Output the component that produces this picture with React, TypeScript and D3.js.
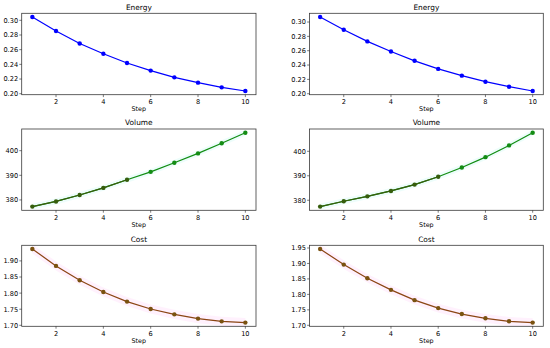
import * as d3 from 'd3';

const steps = [1, 2, 3, 4, 5, 6, 7, 8, 9, 10];
const xTicks = [2, 4, 6, 8, 10];

const energyLeft = [0.3045, 0.2854, 0.2685, 0.2544, 0.2418, 0.2315, 0.2223, 0.2151, 0.2087, 0.2037];
const energyRight = [0.307, 0.2893, 0.273, 0.2589, 0.2459, 0.2346, 0.2252, 0.2168, 0.2098, 0.2038];
const volumeLeft = [377.3, 379.4, 382.0, 384.9, 388.2, 391.4, 395.1, 398.9, 403.0, 407.3];
const volumeRight = [377.4, 379.6, 381.6, 383.8, 386.4, 389.6, 393.4, 397.6, 402.4, 407.6];
const costLeft = [1.937, 1.8845, 1.84, 1.8036, 1.7737, 1.7507, 1.734, 1.7208, 1.7124, 1.7084];
const costRight = [1.9468, 1.8963, 1.8522, 1.8146, 1.7814, 1.7557, 1.7364, 1.7226, 1.7129, 1.7087];

const energyTicks = [0.2, 0.22, 0.24, 0.26, 0.28, 0.3];
const volumeTicks = [380, 390, 400];
const costTicksLeft = [1.7, 1.75, 1.8, 1.85, 1.9];
const costTicksRight = [1.7, 1.75, 1.8, 1.85, 1.9, 1.95];

interface PanelSpec {
  title: string;
  values: number[];
  ticks: number[];
  fmt: string;
  line: string;
  marker: string;
  darkMarker?: string;
  darkUntil?: number;
  band?: string;
  spread?: number;
}

const leftColumn: PanelSpec[] = [
  { title: 'Energy', values: energyLeft, ticks: energyTicks, fmt: '.2f', line: '#0000ff', marker: '#0000ff' },
  { title: 'Volume', values: volumeLeft, ticks: volumeTicks, fmt: 'd', line: '#118c11', marker: '#148c14', darkMarker: '#365d0c', darkUntil: 5, band: '#7ff0e0', spread: 1.2 },
  { title: 'Cost', values: costLeft, ticks: costTicksLeft, fmt: '.2f', line: '#8b4513', marker: '#7a5210', band: '#ff9ef0', spread: 0.014 },
];
const rightColumn: PanelSpec[] = [
  { title: 'Energy', values: energyRight, ticks: energyTicks, fmt: '.2f', line: '#0000ff', marker: '#0000ff' },
  { title: 'Volume', values: volumeRight, ticks: volumeTicks, fmt: 'd', line: '#118c11', marker: '#148c14', darkMarker: '#365d0c', darkUntil: 6, band: '#7ff0e0', spread: 1.2 },
  { title: 'Cost', values: costRight, ticks: costTicksRight, fmt: '.2f', line: '#8b4513', marker: '#7a5210', band: '#ff9ef0', spread: 0.014 },
];

const FONT = 'DejaVu Sans, sans-serif';

function Panel({ spec, x0, x1, top, bottom }: { spec: PanelSpec; x0: number; x1: number; top: number; bottom: number }) {
  const x = d3.scaleLinear().domain([0.55, 10.45]).range([x0, x1]);
  const [lo, hi] = d3.extent(spec.values) as [number, number];
  const pad = (hi - lo) * 0.05;
  const y = d3.scaleLinear().domain([lo - pad, hi + pad]).range([bottom, top]);
  const fmt = d3.format(spec.fmt);

  const line = d3.line<number>().x((_, i) => x(steps[i])).y(d => y(d)).curveMonotoneX;
  const pathLine = d3.line<number>().x((_, i) => x(steps[i])).y(d => y(d));
  const area = d3.area<number>()
    .x((_, i) => x(steps[i]))
    .y0(d => y(d - (spec.spread || 0)))
    .y1(d => y(d + (spec.spread || 0)));

  const clipId = `clip-${spec.title}-${Math.round(x0)}`;
  const dark = spec.darkUntil ? spec.values.slice(0, spec.darkUntil) : [];

  return (
    <g>
      <defs>
        <clipPath id={clipId}>
          <rect x={x0} y={top} width={x1 - x0} height={bottom - top} />
        </clipPath>
      </defs>
      <text x={(x0 + x1) / 2} y={top - 3.8} textAnchor="middle" fontSize={7.4} fontFamily={FONT} fill="#000">{spec.title}</text>
      {spec.band && (
        <path d={area(spec.values) || ''} fill={spec.band} opacity={0.14} clipPath={`url(#${clipId})`} />
      )}
      <path d={pathLine(spec.values) || ''} fill="none" stroke={spec.line} strokeWidth={1.2} />
      {dark.length > 1 && (
        <path d={pathLine(dark) || ''} fill="none" stroke={spec.darkMarker} strokeWidth={1.2} />
      )}
      {spec.values.map((v, i) => (
        <circle key={i} cx={x(steps[i])} cy={y(v)} r={2.2}
          fill={spec.darkUntil && i < spec.darkUntil ? spec.darkMarker : spec.marker} />
      ))}
      <rect x={x0} y={top} width={x1 - x0} height={bottom - top} fill="none" stroke="#3a3a3a" strokeWidth={0.8} />
      {spec.ticks.map(t => (
        <g key={t}>
          <line x1={x0 - 2.4} x2={x0} y1={y(t)} y2={y(t)} stroke="#222" strokeWidth={0.6} />
          <text x={x0 - 3.6} y={y(t) + 2.4} textAnchor="end" fontSize={6.6} fontFamily={FONT} fill="#000">{fmt(t)}</text>
        </g>
      ))}
      {xTicks.map(t => (
        <g key={t}>
          <line x1={x(t)} x2={x(t)} y1={bottom} y2={bottom + 2.4} stroke="#222" strokeWidth={0.6} />
          <text x={x(t)} y={bottom + 9.2} textAnchor="middle" fontSize={6.6} fontFamily={FONT} fill="#000">{t}</text>
        </g>
      ))}
      <text x={(x0 + x1) / 2} y={bottom + 16.5} textAnchor="middle" fontSize={6.4} fontFamily={FONT} fill="#000">Step</text>
    </g>
  );
}

export default function App() {
  const rowTops = [13.3, 129, 245.3];
  const rowBottoms = [94.7, 210.3, 326.3];
  return (
    <svg width={550} height={348} style={{ position: 'absolute', left: 0, top: 0, background: '#fff' }}>
      {leftColumn.map((spec, r) => (
        <Panel key={`l${r}`} spec={spec} x0={21.7} x1={256} top={rowTops[r]} bottom={rowBottoms[r]} />
      ))}
      {rightColumn.map((spec, r) => (
        <Panel key={`r${r}`} spec={spec} x0={309.5} x1={543.3} top={rowTops[r]} bottom={rowBottoms[r]} />
      ))}
    </svg>
  );
}
